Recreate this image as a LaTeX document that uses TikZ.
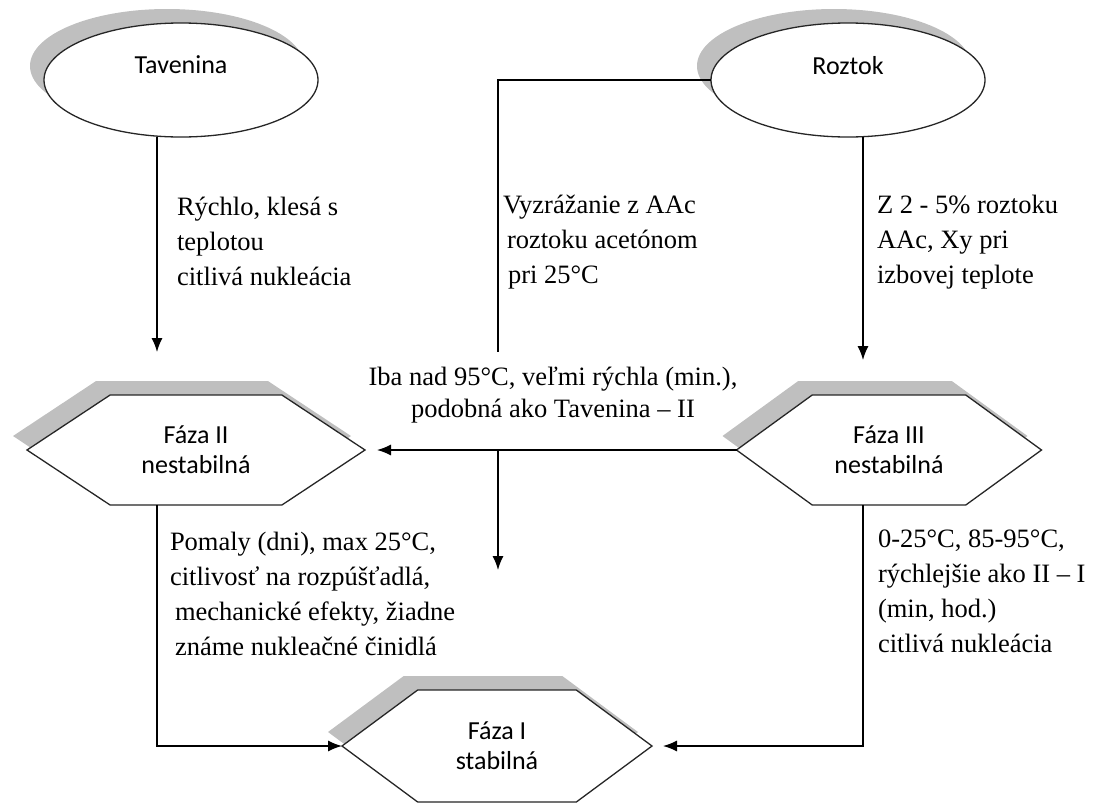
\documentclass[tikz,border=0pt]{standalone}
\usepackage{fontspec}
\setmainfont{Liberation Serif}
\setsansfont{Carlito}
\usetikzlibrary{shapes.geometric,shapes.symbols,shadows,arrows.meta}

\begin{document}
\begin{tikzpicture}
[x=1pt,y=-1pt,line width=1.3pt,
 every node/.style={outer sep=0pt,inner sep=0pt},
 shade/.style={drop shadow={shadow xshift=-14pt,shadow yshift=14pt,opacity=1,fill=black!25}},
 oval/.style={ellipse,draw=black!85,fill=white,shade,minimum width=274pt,minimum height=114pt,
   align=center,font=\sffamily\fontsize{26}{30}\selectfont},
 phase/.style={signal,signal to=east and west,draw=black!85,fill=white,shade,minimum height=110pt,
   align=center,font=\sffamily\fontsize{26}{30}\selectfont},
 note/.style={anchor=north west,align=left,font=\fontsize{26.5}{35}\selectfont},
 arr/.style={-{Latex[length=14pt,width=11pt]}}]
\useasboundingbox (0,0) rectangle (1106,804);
\node[oval] (tav) at (181,80) {Tavenina\\ \mbox{}};
\node[oval] (roz) at (848,80) {Roztok\\ \mbox{}};
\node[phase,minimum width=338pt,signal pointer angle=67] (f2) at (196,450) {Fáza II\\nestabilná};
\node[phase,minimum width=305pt,signal pointer angle=72] (f3) at (889,450) {Fáza III\\nestabilná};
\node[phase,minimum width=310pt,minimum height=112pt,signal pointer angle=73] (f1) at (497,746) {Fáza I\\stabilná};
\coordinate (tavend) at (157,352);
\coordinate (rozend) at (863,360);
\coordinate (vyzend) at (498,352);
\coordinate (midend) at (498,570);
\node[note] (n1) at (177,197) {Rýchlo, klesá s\\teplotou\\citlivá nukleácia};
\node[note] (n2) at (503,195) {Vyzrážanie z AAc\\\hspace{4pt}roztoku acetónom\\\hspace{5pt}pri 25°C};
\node[note] (n3) at (877,195) {Z 2 - 5\% roztoku\\AAc, Xy pri\\izbovej teplote};
\node[note,anchor=north,align=center,font=\fontsize{26.5}{32}\selectfont] (n4) at (553,367)
  {Iba nad 95°C, veľmi rýchla (min.),\\podobná ako Tavenina – II};
\node[note] (n5) at (170,532) {Pomaly (dni), max 25°C,\\citlivosť na rozpúšťadlá,\\\hspace{5pt}mechanické efekty, žiadne\\\hspace{5pt}známe nukleačné činidlá};
\node[note] (n6) at (878,530) {0-25°C, 85-95°C,\\rýchlejšie ako II – I\\(min, hod.)\\citlivá nukleácia};
\draw[arr] (tav.south -| tavend) -- (tavend);
\draw (roz.west) -| (vyzend);
\draw[arr] (roz.south -| rozend) -- (rozend);
\draw[arr,shorten >=12pt] (f3.west) -- (f2.east);
\draw[arr] (f3.west -| midend) -- (midend);
\draw[arr] (f2.south -| tavend) |- (f1.west);
\draw[arr,shorten >=11pt] (f3.south -| rozend) |- (f1.east);
\end{tikzpicture}
\end{document}
